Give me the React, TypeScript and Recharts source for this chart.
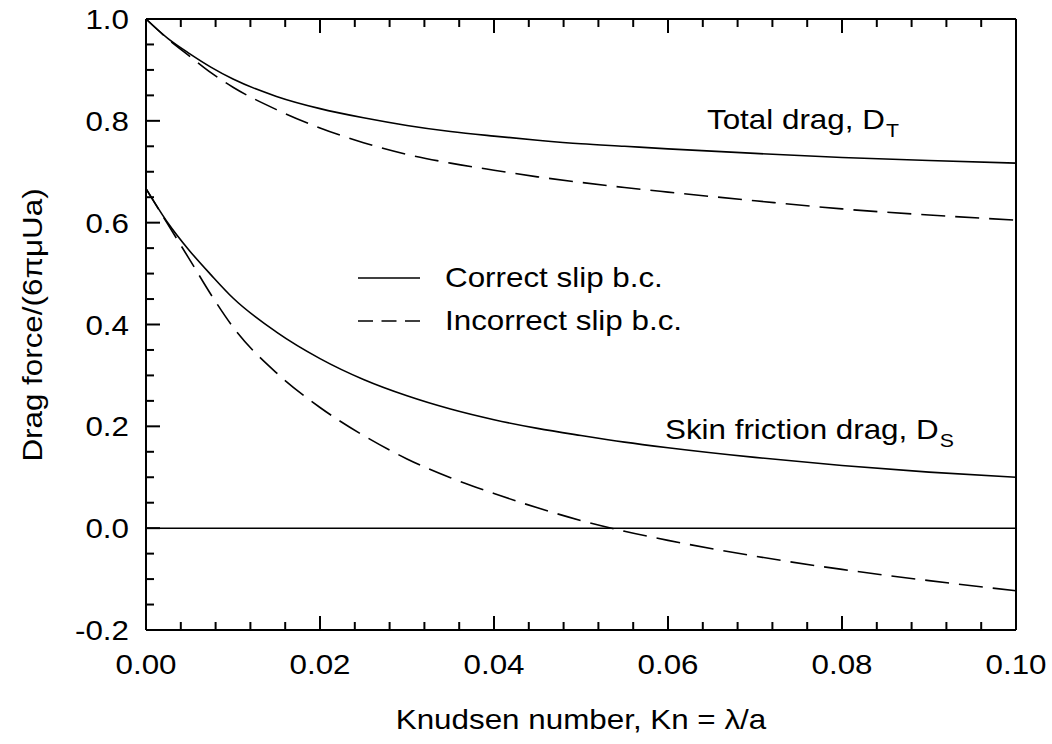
import { LineChart, Line, XAxis, YAxis, ReferenceLine, Legend } from "recharts";

// Knudsen numbers (x values)
const kn = [0, 0.0025, 0.005, 0.0075, 0.01, 0.015, 0.02, 0.025, 0.03, 0.035, 0.04, 0.045, 0.05, 0.055, 0.06, 0.07, 0.08, 0.09, 0.1];

// Total drag, D_T
const totalCorrect = [1.0, 0.962, 0.932, 0.905, 0.882, 0.848, 0.824, 0.806, 0.791, 0.779, 0.77, 0.762, 0.755, 0.75, 0.745, 0.736, 0.728, 0.722, 0.717];
const totalIncorrect = [1.0, 0.961, 0.927, 0.894, 0.866, 0.822, 0.786, 0.757, 0.734, 0.717, 0.703, 0.69, 0.679, 0.669, 0.66, 0.643, 0.627, 0.615, 0.605];

// Skin friction drag, D_S
const skinCorrect = [0.667, 0.6, 0.545, 0.497, 0.452, 0.385, 0.333, 0.292, 0.26, 0.234, 0.213, 0.196, 0.182, 0.169, 0.158, 0.139, 0.123, 0.11, 0.1];
const skinIncorrect = [0.667, 0.597, 0.528, 0.458, 0.395, 0.305, 0.237, 0.182, 0.136, 0.099, 0.068, 0.04, 0.015, -0.006, -0.024, -0.055, -0.081, -0.103, -0.123];

// axis ticks (major ones get labels)
const xTicks = [0, 0.004, 0.008, 0.012, 0.016, 0.02, 0.024, 0.028, 0.032, 0.036, 0.04, 0.044, 0.048, 0.052, 0.056, 0.06, 0.064, 0.068, 0.072, 0.076, 0.08, 0.084, 0.088, 0.092, 0.096, 0.1];
const xLabels = [0, 0.02, 0.04, 0.06, 0.08, 0.1];
const yTicks = [-0.2, -0.15, -0.1, -0.05, 0, 0.05, 0.1, 0.15, 0.2, 0.25, 0.3, 0.35, 0.4, 0.45, 0.5, 0.55, 0.6, 0.65, 0.7, 0.75, 0.8, 0.85, 0.9, 0.95, 1.0];
const yLabels = [-0.2, 0, 0.2, 0.4, 0.6, 0.8, 1.0];

const DASH = "24 10";

const legendItems = [
    { name: "Correct slip b.c.", dash: undefined },
    { name: "Incorrect slip b.c.", dash: "15 8.5" },
];

const data = kn.map((k, i) => ({
    kn: k,
    totalCorrect: totalCorrect[i],
    totalIncorrect: totalIncorrect[i],
    skinCorrect: skinCorrect[i],
    skinIncorrect: skinIncorrect[i],
}));

const FONT = "'Liberation Sans', Arial, Helvetica, sans-serif";
const STRETCH = 1.12; // the original lettering is a bit wide
const MAJOR = 14;
const MINOR = 8;

const isLabel = (v: number, list: number[]) => list.some((l) => Math.abs(l - v) < 1e-9);

// ticks point inward, tickSize=0 so x/y is the axis line
const BottomTick = (props: any) => {
    const { x, y, payload } = props;
    const major = isLabel(payload.value, xLabels);
    return (
        <g>
            <line x1={x} y1={y} x2={x} y2={y - (major ? MAJOR : MINOR)} stroke="#000" strokeWidth={2} />
            {major && (
                <g transform={`translate(${x},${y + 44}) scale(${STRETCH},1)`}>
                    <text x={0} y={0} textAnchor="middle" fontFamily={FONT} fontSize={28} fill="#000">
                        {payload.value.toFixed(2)}
                    </text>
                </g>
            )}
        </g>
    );
};

const TopTick = (props: any) => {
    const { x, y, payload } = props;
    const major = isLabel(payload.value, xLabels);
    return <line x1={x} y1={y} x2={x} y2={y + (major ? MAJOR : MINOR)} stroke="#000" strokeWidth={2} />;
};

const LeftTick = (props: any) => {
    const { x, y, payload } = props;
    const major = isLabel(payload.value, yLabels);
    return (
        <g>
            <line x1={x} y1={y} x2={x + (major ? MAJOR : MINOR)} y2={y} stroke="#000" strokeWidth={2} />
            {major && (
                <g transform={`translate(${x - 17},${y + 10}) scale(${STRETCH},1)`}>
                    <text x={0} y={0} textAnchor="end" fontFamily={FONT} fontSize={28} fill="#000">
                        {payload.value.toFixed(1)}
                    </text>
                </g>
            )}
        </g>
    );
};

const RightTick = (props: any) => {
    const { x, y, payload } = props;
    const major = isLabel(payload.value, yLabels);
    return <line x1={x} y1={y} x2={x - (major ? MAJOR : MINOR)} y2={y} stroke="#000" strokeWidth={2} />;
};

const LegendBox = () => (
    <div style={{ fontFamily: FONT }}>
        {legendItems.map((item) => (
            <div key={item.name} style={{ display: "flex", alignItems: "center", height: 43 }}>
                <svg width={62} height={10}>
                    <line x1={0} y1={5} x2={62} y2={5} stroke="#000" strokeWidth={1.5} strokeDasharray={item.dash} />
                </svg>
                <span
                    style={{
                        marginLeft: 25,
                        fontSize: 28,
                        lineHeight: "40px",
                        whiteSpace: "nowrap",
                        transform: `scaleX(${STRETCH})`,
                        transformOrigin: "left center",
                        display: "inline-block",
                    }}
                >
                    {item.name}
                </span>
            </div>
        ))}
    </div>
);

const textStyle: React.CSSProperties = {
    position: "absolute",
    fontFamily: FONT,
    fontSize: 28,
    lineHeight: "40px",
    whiteSpace: "nowrap",
    color: "#000",
    transformOrigin: "left center",
    transform: `scaleX(${STRETCH})`,
};

const sub: React.CSSProperties = { fontSize: 19, position: "relative", top: 8, marginLeft: 1 };

const axisLine = { stroke: "#000", strokeWidth: 2 };

export default function App() {
    return (
        <div style={{ position: "absolute", left: 0, top: 0, width: 1052, height: 744, background: "#fff" }}>
            <LineChart width={1052} height={744} data={data} margin={{ top: 18, right: 35, bottom: 113, left: 145 }}>
                <XAxis
                    dataKey="kn"
                    type="number"
                    domain={[0, 0.1]}
                    ticks={xTicks}
                    interval={0}
                    height={1}
                    tickSize={0}
                    tickMargin={0}
                    tick={<BottomTick />}
                    axisLine={axisLine}
                    tickLine={false}
                />
                <XAxis
                    xAxisId="top"
                    orientation="top"
                    dataKey="kn"
                    type="number"
                    domain={[0, 0.1]}
                    ticks={xTicks}
                    interval={0}
                    height={1}
                    tickSize={0}
                    tickMargin={0}
                    tick={<TopTick />}
                    axisLine={axisLine}
                    tickLine={false}
                />
                <YAxis
                    type="number"
                    domain={[-0.2, 1.0]}
                    ticks={yTicks}
                    interval={0}
                    width={1}
                    tickSize={0}
                    tickMargin={0}
                    tick={<LeftTick />}
                    axisLine={axisLine}
                    tickLine={false}
                />
                <YAxis
                    yAxisId="right"
                    orientation="right"
                    type="number"
                    domain={[-0.2, 1.0]}
                    ticks={yTicks}
                    interval={0}
                    width={1}
                    tickSize={0}
                    tickMargin={0}
                    tick={<RightTick />}
                    axisLine={axisLine}
                    tickLine={false}
                />

                <ReferenceLine y={0} stroke="#000" strokeWidth={1.5} />

                <Line type="monotone" dataKey="totalCorrect" name="Correct slip b.c." stroke="#000" strokeWidth={1.6} dot={false} isAnimationActive={false} />
                <Line type="monotone" dataKey="totalIncorrect" name="Incorrect slip b.c." stroke="#000" strokeWidth={1.6} strokeDasharray={DASH} dot={false} isAnimationActive={false} />
                <Line type="monotone" dataKey="skinCorrect" stroke="#000" strokeWidth={1.6} dot={false} legendType="none" isAnimationActive={false} />
                <Line type="monotone" dataKey="skinIncorrect" stroke="#000" strokeWidth={1.6} strokeDasharray={DASH} dot={false} legendType="none" isAnimationActive={false} />

                <Legend
                    layout="vertical"
                    align="center"
                    verticalAlign="middle"
                    content={() => <LegendBox />}
                    wrapperStyle={{ position: "absolute", left: 358, top: 256, width: 400, height: 90 }}
                />
            </LineChart>

            {/* annotations */}
            <div style={{ ...textStyle, left: 707, top: 100 }}>
                Total drag, D<span style={sub}>T</span>
            </div>
            <div style={{ ...textStyle, left: 665, top: 410 }}>
                Skin friction drag, D<span style={sub}>S</span>
            </div>

            {/* axis titles */}
            <div style={{ ...textStyle, left: 581, top: 720, transformOrigin: "center center", transform: `translate(-50%, -50%) scaleX(${STRETCH})` }}>
                Knudsen number, Kn = λ/a
            </div>
            <div
                style={{
                    ...textStyle,
                    left: 33,
                    top: 325,
                    transformOrigin: "center center",
                    transform: `translate(-50%, -50%) rotate(-90deg) scaleX(${STRETCH})`,
                }}
            >
                Drag force/(6πμUa)
            </div>
        </div>
    );
}
